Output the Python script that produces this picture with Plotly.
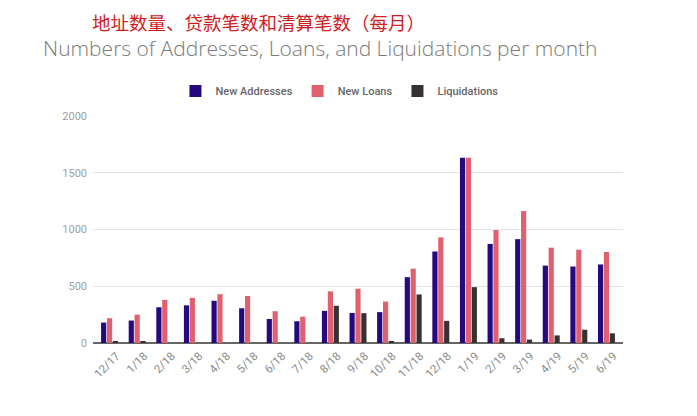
import plotly.graph_objects as go

months = ["12/17", "1/18", "2/18", "3/18", "4/18", "5/18", "6/18", "7/18", "8/18", "9/18",
          "10/18", "11/18", "12/18", "1/19", "2/19", "3/19", "4/19", "5/19", "6/19"]
new_addresses = [180, 198, 315, 332, 372, 306, 212, 192, 283, 265, 272, 580, 806, 1632, 873, 915, 682, 674, 692]
new_loans = [218, 250, 380, 398, 430, 414, 280, 232, 455, 478, 365, 655, 930, 1632, 995, 1162, 840, 822, 802]
liquidations = [18, 18, 0, 0, 0, 0, 0, 0, 328, 263, 18, 428, 195, 492, 42, 30, 67, 117, 85]

series_names = ["New Addresses", "New Loans", "Liquidations"]
colors = ["#27097f", "#e0606e", "#363232"]
y_ticks = [0, 500, 1000, 1500, 2000]

fig = go.Figure()
for name, vals, col in zip(series_names, [new_addresses, new_loans, liquidations], colors):
    fig.add_trace(go.Bar(name=name, x=months, y=vals, marker=dict(color=col, line=dict(width=0))))

# page body has an 8px default margin; the figure is sized to fit the window
fig.update_layout(
    width=689, height=408,
    margin=dict(l=85, r=74, t=108, b=73, autoexpand=False),
    paper_bgcolor="white", plot_bgcolor="white",
    barmode="group", bargap=0.36, bargroupgap=0.12,
    font=dict(family="Roboto, sans-serif", color="#888888", size=11),
    showlegend=True,
    legend=dict(orientation="h", x=0.465, xanchor="center", y=1.11, yanchor="middle",
                font=dict(size=11, color="#666666", family="Roboto, sans-serif", weight=500),
                itemwidth=30, traceorder="normal"),
    xaxis=dict(type="category", range=[-0.6, 18.6], tickangle=-45, showgrid=False,
               showline=False, ticks="", automargin=False, ticklabelstandoff=3, ticklabelshift=7,
               tickfont=dict(size=11.5, color="#8a8a8a")),
    yaxis=dict(range=[0, 2000], tickvals=y_ticks, ticktext=[str(v) for v in y_ticks],
               showgrid=True, gridcolor="#e4e4e4", gridwidth=1, zeroline=True, automargin=False,
               zerolinecolor="#666666", zerolinewidth=1.5, ticks="",
               tickfont=dict(size=11, color="#a0a0a0"), ticklabelstandoff=5),
    annotations=[
        dict(text="地址数量、贷款笔数和清算笔数（每月）", xref="paper", yref="paper",
             x=(258 - 93) / 530, y=1 + (116 - 22) / 227, xanchor="center", yanchor="middle",
             showarrow=False, font=dict(family="Noto Sans CJK SC", size=18.5, color="#d0201e")),
        dict(text="Numbers of Addresses, Loans, and Liquidations per month", xref="paper", yref="paper",
             x=(320 - 93) / 530, y=1 + (116 - 48) / 227, xanchor="center", yanchor="middle",
             showarrow=False, font=dict(family="Open Sans", size=21, color="#7a7a7a", weight=300)),
    ],
)

fig.write_html("out.html")
